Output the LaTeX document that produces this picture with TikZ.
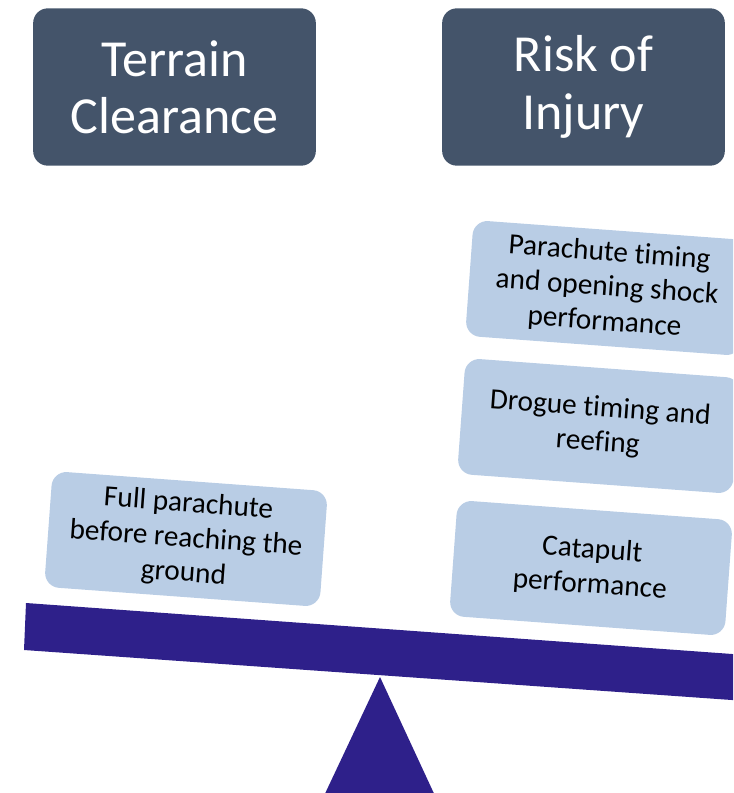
\documentclass[tikz,border=0pt]{standalone}
\usepackage{fontspec}
\setmainfont{Carlito}[RawFeature={-liga;-clig;-calt}]
\usetikzlibrary{positioning}
\definecolor{headblue}{RGB}{68,84,106}
\definecolor{lightblue}{RGB}{185,205,229}
\definecolor{beamblue}{RGB}{46,32,138}

\begin{document}
\begin{tikzpicture}[x=0.75pt,y=-0.75pt,
    head node/.style={rectangle,rounded corners=11pt,fill=headblue,text=white,
      minimum width=212pt,minimum height=118pt,align=center,
      font=\fontsize{39}{43}\selectfont},
    weight node/.style={rectangle,rounded corners=11pt,fill=lightblue,text=black,
      minimum width=207pt,minimum height=87pt,align=center,rotate=-4.2,
      font=\fontsize{22}{26}\selectfont}]

\useasboundingbox (0,0) rectangle (733,793);
\clip (0,0) rectangle (733,793);

% headings
\node[head node] (terrain) at (174.5,87) {Terrain\\Clearance};
\node[head node] (risk)    at (583.5,87) {Risk of\\Injury};

% weights on the balance
\node[weight node] (full)     at (186,539) {Full parachute\\before reaching the\\ground};
\node[weight node] (catapult) at (591,568) {Catapult\\performance};
\node[weight node] (drogue)   at (599,426) {Drogue timing and\\reefing};
\node[weight node] (chute)    at (607,288) {Parachute timing\\and opening shock\\performance};

% beam and fulcrum
\fill[beamblue] (26,603) -- (760,656) -- (760,702) -- (24,650) -- cycle;
\fill[beamblue] (380,677) -- (437,800) -- (322,800) -- cycle;
\end{tikzpicture}
\end{document}
